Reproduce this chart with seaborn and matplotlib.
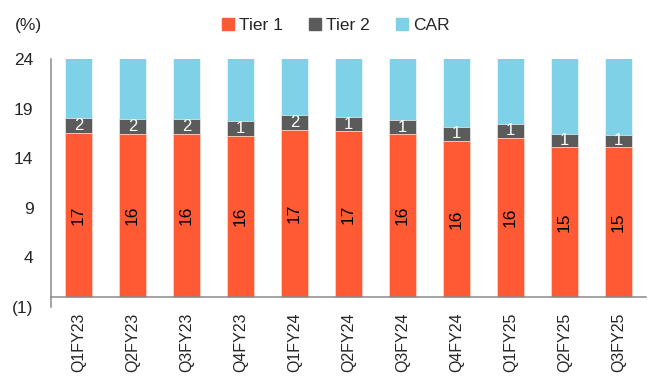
import matplotlib
matplotlib.use("Agg")
import matplotlib.pyplot as plt
import seaborn as sns
import pandas as pd
import numpy as np
from matplotlib.patches import Patch

sns.set_style("white")
plt.rcParams['font.family'] = ['Liberation Sans', 'DejaVu Sans']

quarters = ["Q1FY23", "Q2FY23", "Q3FY23", "Q4FY23", "Q1FY24", "Q2FY24",
            "Q3FY24", "Q4FY24", "Q1FY25", "Q2FY25", "Q3FY25"]
tier1 = [16.53, 16.43, 16.43, 16.29, 16.87, 16.70, 16.43, 15.76, 16.09, 15.16, 15.12]
tier2 = [1.55, 1.51, 1.51, 1.45, 1.52, 1.44, 1.41, 1.41, 1.41, 1.30, 1.27]
car = [18.08, 17.94, 17.94, 17.74, 18.39, 18.14, 17.84, 17.17, 17.50, 16.46, 16.39]

y_ticks = [-1, 4, 9, 14, 19, 24]
y_labels = ["(1)", "4", "9", "14", "19", "24"]

c_t1 = "#FF5A33"
c_t2 = "#5B5B5B"
c_car = "#7ED1E7"

df = pd.DataFrame({"q": quarters, "t1": tier1, "t2": tier2, "car": car})
df["s2"] = df["t1"] + df["t2"]
df["s3"] = df["s2"] + df["car"]

fig = plt.figure(figsize=(6.55, 3.81), dpi=100)
ax = fig.add_axes([0.0786, 0.194, 0.907, 0.651])

sns.barplot(data=df, x="q", y="s3", color=c_car, width=0.5, ax=ax,
            edgecolor="#E8F6FA", linewidth=0.6, saturation=1)
sns.barplot(data=df, x="q", y="s2", color=c_t2, width=0.5, ax=ax,
            edgecolor="#E0E0E0", linewidth=0.6, saturation=1)
sns.barplot(data=df, x="q", y="t1", color=c_t1, width=0.5, ax=ax,
            edgecolor="#FFD5C8", linewidth=0.6, saturation=1)

ax.set_ylim(-1, 24)
ax.set_xlim(-0.5, len(quarters) - 0.5)
ax.set_yticks(y_ticks)
ax.set_yticklabels(y_labels, fontsize=12.5)
ax.set_xlabel("")
ax.set_ylabel("")

# bar labels
for i, (a, b) in enumerate(zip(tier1, tier2)):
    ax.text(i, a / 2, f"{a:.0f}", rotation=90, ha="center", va="center",
            fontsize=12.5, color="black")
    ax.text(i, a + b / 2, f"{b:.0f}", ha="center", va="center",
            fontsize=12, color="white")

for s in ["top", "right"]:
    ax.spines[s].set_visible(False)
spine_c = "#8A8A8A"
ax.spines["left"].set_color(spine_c)
ax.spines["left"].set_linewidth(1.1)
ax.spines["bottom"].set_color(spine_c)
ax.spines["bottom"].set_linewidth(1.1)
ax.spines["bottom"].set_position(("data", 0))

ax.set_xticks(range(len(quarters)))
ax.set_xticklabels(quarters, rotation=90, fontsize=11.5)
ax.set_xticks(np.arange(0.5, len(quarters), 1.0), minor=True)
ax.tick_params(axis="x", which="major", length=0, pad=11)
ax.tick_params(axis="x", which="minor", length=5, width=1.1, color=spine_c, direction="out")
ax.tick_params(axis="y", which="major", length=5, width=1.1, color=spine_c, direction="out", pad=8)

fig.text(0.022, 0.932, "(%)", fontsize=12.5, ha="left", va="center")

handles = [Patch(color=c_t1, label="Tier 1"), Patch(color=c_t2, label="Tier 2"),
           Patch(color=c_car, label="CAR")]
fig.legend(handles=handles, loc="center", bbox_to_anchor=(0.513, 0.932), ncol=3,
           frameon=False, fontsize=12.5, handlelength=0.7, handleheight=0.7,
           handletextpad=0.3, columnspacing=1.5)

fig.savefig("out.png", dpi=100)
